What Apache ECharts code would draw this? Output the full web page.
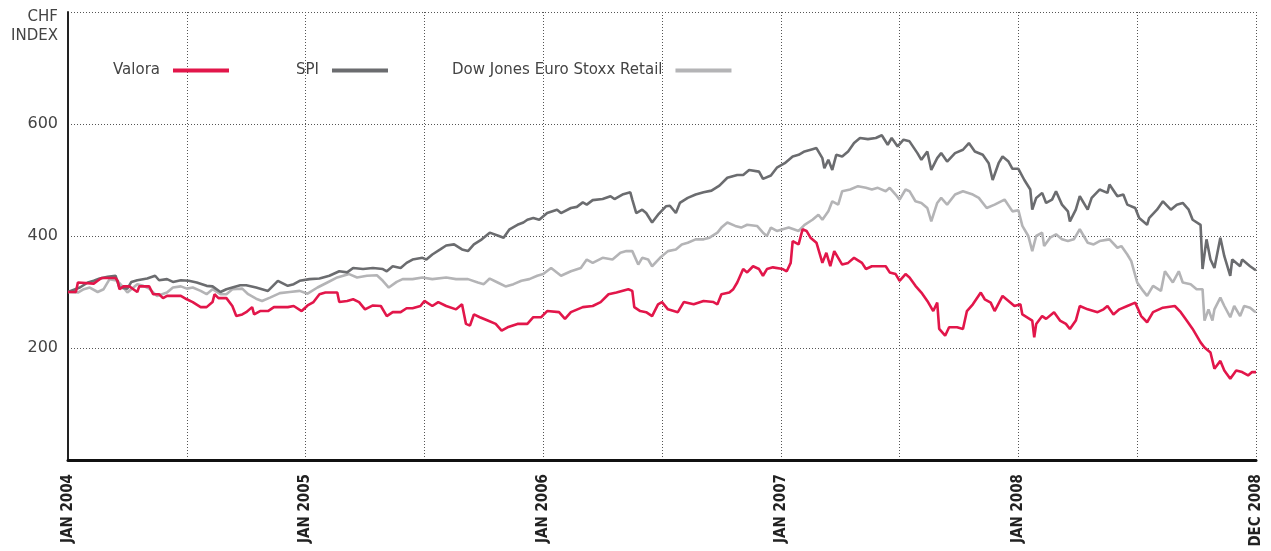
<!DOCTYPE html>
<html>
<head>
<meta charset="utf-8">
<script src="https://cdn.jsdelivr.net/npm/echarts@6/dist/echarts.min.js"></script>
<style>
html,body{margin:0;padding:0;background:#ffffff;}
#chart{width:1271px;height:551px;}
</style>
</head>
<body>
<div id="chart"></div>
<script>
// x values are months elapsed since January 2004 (0 = Jan 2004, 60 = end of Dec 2008)
const seriesNames = ['Valora', 'SPI', 'Dow Jones Euro Stoxx Retail'];
const xTickMonths = [0, 12, 24, 36, 48, 60];
const xTickLabels = ['JAN 2004', 'JAN 2005', 'JAN 2006', 'JAN 2007', 'JAN 2008', 'DEC 2008'];
const yTickValues = [200, 400, 600];
const yAxisTitle = 'CHF\nINDEX';

const valora = [[0,300],[0.4,300],[0.5,317],[1.3,315],[1.5,320],[1.7,325],[2.4,325],[2.5,320],[2.6,305],[2.8,310],[3.1,310],[3.3,305],[3.5,300],[3.6,310],[4.1,310],[4.3,296],[4.6,296],[4.8,289],[5.0,293],[5.7,293],[6.0,287],[6.3,282],[6.7,273],[7.0,273],[7.3,282],[7.4,296],[7.6,289],[8.0,289],[8.3,275],[8.5,257],[8.8,260],[9.0,264],[9.3,273],[9.4,260],[9.7,266],[10.1,266],[10.4,273],[11.1,273],[11.4,275],[11.8,266],[12.1,276],[12.4,282],[12.7,296],[13.0,299],[13.6,299],[13.7,282],[14.1,284],[14.4,287],[14.7,282],[15.0,269],[15.4,276],[15.8,275],[16.1,257],[16.4,264],[16.8,264],[17.1,271],[17.4,271],[17.8,275],[18.0,284],[18.4,275],[18.7,282],[19.1,275],[19.6,269],[19.9,278],[20.1,243],[20.3,240],[20.5,260],[20.8,255],[21.2,249],[21.6,243],[21.9,231],[22.2,237],[22.7,243],[23.2,243],[23.5,255],[23.9,255],[24.2,266],[24.8,264],[25.1,252],[25.4,264],[26.0,273],[26.5,275],[26.9,282],[27.3,296],[27.7,299],[28.3,305],[28.5,302],[28.6,273],[28.9,266],[29.2,264],[29.5,257],[29.8,278],[30.0,282],[30.3,269],[30.8,264],[31.1,282],[31.6,278],[32.1,284],[32.6,282],[32.8,278],[33.0,296],[33.4,299],[33.6,305],[33.8,317],[34.1,341],[34.3,335],[34.6,346],[34.9,341],[35.1,329],[35.3,341],[35.6,344],[36.1,341],[36.3,337],[36.5,352],[36.6,391],[36.9,385],[37.1,412],[37.3,409],[37.5,397],[37.8,388],[38.1,352],[38.3,370],[38.5,346],[38.7,373],[39.1,349],[39.4,352],[39.7,361],[40.1,352],[40.3,341],[40.6,346],[41.3,346],[41.5,335],[41.8,332],[42.0,320],[42.3,332],[42.5,326],[42.8,311],[43.1,299],[43.4,284],[43.7,266],[43.9,281],[44.0,234],[44.3,222],[44.5,237],[44.9,237],[45.2,234],[45.4,266],[45.7,278],[46.1,299],[46.3,287],[46.6,281],[46.8,266],[47.2,293],[47.5,284],[47.8,275],[48.1,278],[48.2,260],[48.7,249],[48.8,219],[48.9,243],[49.2,257],[49.4,252],[49.8,264],[50.1,249],[50.4,243],[50.6,234],[50.9,249],[51.1,275],[51.5,269],[52.0,264],[52.3,269],[52.5,275],[52.8,260],[53.1,269],[53.5,275],[53.9,281],[54.2,257],[54.5,246],[54.8,264],[55.3,272],[55.9,275],[56.2,264],[56.5,249],[56.8,234],[57.2,210],[57.4,201],[57.7,192],[57.9,163],[58.2,177],[58.4,160],[58.7,145],[59.0,160],[59.3,157],[59.6,151],[59.8,157],[60,157]];

const spi = [[0,300],[0.6,308],[1.0,317],[1.3,320],[1.6,324],[2.0,327],[2.4,329],[2.6,308],[3.0,306],[3.2,318],[3.5,321],[4.0,324],[4.4,329],[4.6,321],[5.0,323],[5.3,318],[5.7,321],[6.1,320],[6.5,317],[7.0,311],[7.3,310],[7.7,300],[8.0,305],[8.3,308],[8.7,312],[9.0,312],[9.5,308],[10.1,302],[10.6,320],[11.1,311],[11.4,314],[11.7,320],[12.2,323],[12.7,324],[13.2,329],[13.7,337],[14.1,335],[14.4,343],[14.9,341],[15.4,343],[15.9,341],[16.1,337],[16.4,346],[16.8,343],[17.1,352],[17.4,358],[17.9,361],[18.1,358],[18.4,367],[18.8,376],[19.1,383],[19.5,385],[19.9,376],[20.2,373],[20.5,385],[20.9,394],[21.3,406],[21.7,401],[22.0,397],[22.3,412],[22.7,420],[23.0,424],[23.2,429],[23.5,432],[23.8,429],[24.2,441],[24.7,447],[24.9,441],[25.4,450],[25.7,452],[26.0,460],[26.2,456],[26.5,464],[27.0,466],[27.4,471],[27.6,466],[28.0,474],[28.4,478],[28.5,465],[28.7,441],[29.0,447],[29.2,441],[29.5,424],[29.8,438],[30.2,453],[30.4,454],[30.7,441],[30.9,459],[31.3,468],[31.7,474],[32.1,478],[32.5,481],[32.9,490],[33.3,504],[33.8,509],[34.1,509],[34.4,518],[34.9,515],[35.1,502],[35.5,508],[35.8,522],[36.2,530],[36.6,542],[36.9,545],[37.2,551],[37.6,555],[37.8,557],[38.1,539],[38.2,521],[38.4,536],[38.6,518],[38.8,545],[39.1,542],[39.4,551],[39.7,566],[40.0,575],[40.4,573],[40.8,575],[41.1,580],[41.4,563],[41.6,575],[41.9,560],[42.0,557],[42.2,572],[42.5,569],[42.9,548],[43.1,536],[43.4,551],[43.6,518],[43.9,539],[44.1,548],[44.4,533],[44.8,548],[45.2,554],[45.5,566],[45.8,551],[46.2,545],[46.5,530],[46.7,500],[47.0,530],[47.2,542],[47.5,533],[47.7,520],[48.0,520],[48.3,500],[48.6,483],[48.7,447],[48.9,468],[49.2,477],[49.4,459],[49.7,465],[49.9,480],[50.2,456],[50.5,444],[50.6,426],[50.9,447],[51.1,471],[51.5,447],[51.7,468],[52.1,483],[52.5,477],[52.6,492],[53.0,471],[53.3,474],[53.5,456],[53.9,450],[54.1,432],[54.5,420],[54.6,432],[55.0,447],[55.3,462],[55.7,447],[56.0,456],[56.3,459],[56.6,447],[56.8,429],[57.2,420],[57.3,341],[57.5,394],[57.7,358],[57.9,343],[58.2,397],[58.4,364],[58.7,329],[58.8,358],[59.2,346],[59.3,358],[59.7,346],[59.9,341],[60,339]];

const djStoxxRetail = [[0,300],[0.5,299],[0.8,305],[1.1,308],[1.5,300],[1.8,305],[2.1,323],[2.5,320],[2.8,308],[3.0,299],[3.5,314],[3.8,311],[4.1,306],[4.5,293],[5.0,299],[5.3,308],[5.7,310],[6.0,306],[6.3,308],[6.7,302],[7.0,296],[7.3,305],[7.7,296],[8.0,296],[8.3,305],[8.8,306],[9.1,296],[9.5,288],[9.8,284],[10.2,290],[10.7,298],[11.2,300],[11.7,302],[12.1,297],[12.6,308],[13.1,317],[13.6,326],[14.2,332],[14.6,326],[15.1,329],[15.6,330],[15.9,320],[16.2,308],[16.6,318],[16.9,323],[17.4,323],[17.9,326],[18.4,323],[19.1,326],[19.6,323],[20.2,323],[20.7,317],[21.0,314],[21.3,324],[21.7,317],[22.1,310],[22.5,314],[22.9,320],[23.3,323],[23.7,329],[24.0,332],[24.4,343],[24.9,329],[25.4,337],[25.9,343],[26.2,358],[26.5,352],[27.0,361],[27.5,358],[27.9,370],[28.2,373],[28.5,373],[28.8,349],[29.0,361],[29.3,358],[29.5,346],[29.9,361],[30.3,373],[30.7,376],[31.0,385],[31.3,388],[31.7,394],[32.1,394],[32.4,397],[32.8,406],[33.0,415],[33.3,424],[33.7,418],[34.0,415],[34.3,420],[34.8,418],[35.1,406],[35.3,400],[35.5,415],[35.8,409],[36.1,412],[36.4,415],[36.9,409],[37.2,420],[37.6,429],[37.9,438],[38.1,429],[38.4,444],[38.6,462],[38.9,456],[39.1,480],[39.5,483],[39.9,489],[40.3,486],[40.6,483],[40.9,486],[41.3,480],[41.5,486],[41.8,474],[42.0,465],[42.3,483],[42.5,480],[42.8,462],[43.1,459],[43.4,450],[43.6,426],[43.9,459],[44.1,468],[44.4,456],[44.8,474],[45.2,480],[45.7,474],[46.0,468],[46.4,450],[46.8,456],[47.3,465],[47.7,444],[48.0,446],[48.2,418],[48.5,400],[48.7,373],[48.9,400],[49.2,406],[49.3,382],[49.6,397],[49.9,403],[50.2,394],[50.5,391],[50.8,394],[51.1,412],[51.5,388],[51.8,385],[52.1,391],[52.6,394],[53.0,379],[53.2,382],[53.5,367],[53.7,355],[54.0,317],[54.3,302],[54.5,293],[54.8,311],[55.2,302],[55.4,337],[55.8,317],[56.1,337],[56.3,317],[56.7,314],[57.0,305],[57.3,305],[57.4,249],[57.6,269],[57.8,249],[57.9,269],[58.2,290],[58.4,275],[58.7,255],[58.9,275],[59.2,257],[59.4,275],[59.7,272],[59.9,266],[60,264]];

const baseFont = '"DejaVu Sans", "Liberation Sans", sans-serif';
const boldFont = '"DejaVu Sans Condensed", "DejaVu Sans", "Liberation Sans", sans-serif';
const colors = ['#e2164a', '#6b6c6f', '#b4b4b6'];

function legendFor(i, left) {
  return {
    left: left, top: 63, padding: 0, orient: 'horizontal', align: 'right',
    itemWidth: 56, itemHeight: 4, icon: 'rect', selectedMode: false,
    data: [{ name: seriesNames[i], icon: 'rect' }],
    textStyle: { fontFamily: baseFont, fontSize: 15, color: '#444', padding: [0, 8, 0, 0] }
  };
}

const chart = echarts.init(document.getElementById('chart'), null, { renderer: 'canvas' });
const option = {
  animation: false,
  backgroundColor: '#ffffff',
  grid: { left: 68, right: 15, top: 12, bottom: 91, containLabel: false },
  legend: [legendFor(0, 113), legendFor(1, 296), legendFor(2, 452)],
  graphic: [{
    type: 'text', x: 58, y: 8, z: 10,
    style: { text: yAxisTitle, align: 'right', verticalAlign: 'top', fontFamily: baseFont, fontSize: 15, lineHeight: 19, fill: '#444' }
  }],
  xAxis: {
    type: 'value', min: 0, max: 60, interval: 6,
    axisLine: { show: true, onZero: false, lineStyle: { color: '#111', width: 3 } },
    axisTick: { show: false },
    splitLine: { show: true, lineStyle: { color: '#555', width: 1, type: [1, 2] } },
    axisLabel: {
      show: true, rotate: 90, margin: 14, interval: 0,
      showMinLabel: true, showMaxLabel: true, hideOverlap: false,
      fontFamily: boldFont, fontWeight: 'bold', fontSize: 15, color: '#222',
      formatter: function (v) {
        const idx = xTickMonths.indexOf(Math.round(v));
        return idx >= 0 ? xTickLabels[idx] : '';
      }
    }
  },
  yAxis: {
    type: 'value', min: 0, max: 800, interval: 200,
    axisLine: { show: true, lineStyle: { color: '#222', width: 2 } },
    axisTick: { show: false },
    splitLine: { show: true, lineStyle: { color: '#555', width: 1, type: [1, 2] } },
    axisLabel: {
      show: true, margin: 10, fontFamily: baseFont, fontSize: 16, color: '#444',
      formatter: function (v) { return yTickValues.indexOf(v) >= 0 ? String(v) : ''; }
    }
  },
  series: [
    { name: seriesNames[2], type: 'line', data: djStoxxRetail, showSymbol: false, symbol: 'none', z: 2,
      lineStyle: { color: colors[2], width: 2.6 }, itemStyle: { color: colors[2] } },
    { name: seriesNames[1], type: 'line', data: spi, showSymbol: false, symbol: 'none', z: 3,
      lineStyle: { color: colors[1], width: 2.6 }, itemStyle: { color: colors[1] } },
    { name: seriesNames[0], type: 'line', data: valora, showSymbol: false, symbol: 'none', z: 4,
      lineStyle: { color: colors[0], width: 2.6 }, itemStyle: { color: colors[0] } }
  ]
};
chart.setOption(option);
</script>
</body>
</html>
